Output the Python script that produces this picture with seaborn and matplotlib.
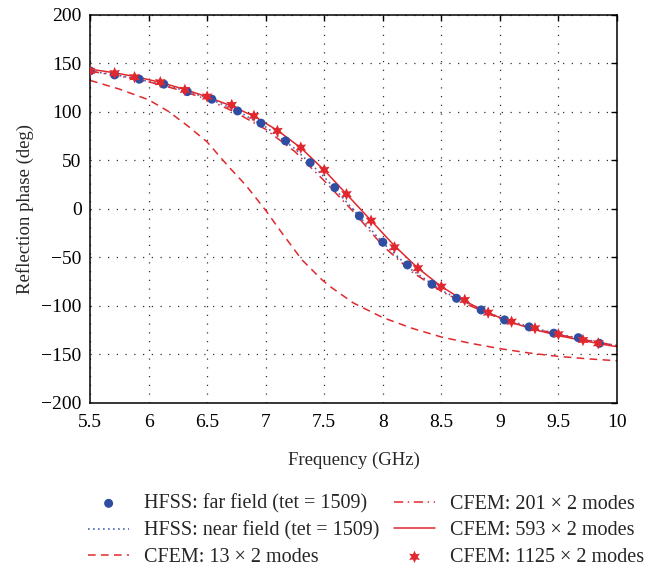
import numpy as np
import pandas as pd
import matplotlib
matplotlib.use('Agg')
import matplotlib.pyplot as plt
import seaborn as sns

# 데이터
far_f = [5.50, 5.71, 5.92, 6.13, 6.33, 6.54, 6.76, 6.96, 7.17, 7.38, 7.59,
         7.80, 8.00, 8.21, 8.42, 8.63, 8.84, 9.04, 9.25, 9.46, 9.67, 9.85]
far_phase = [142.3, 138.1, 133.7, 128.6, 120.9, 113.1, 101.0, 88.4, 70.1, 47.7, 22.0,
             -7.2, -34.3, -57.7, -77.6, -92.1, -104.1, -114.4, -121.6, -128.1, -132.7, -138.5]

near_f = [5.5, 5.75, 6.0, 6.25, 6.5, 6.75, 7.0, 7.25, 7.5, 7.75, 8.0, 8.25, 8.5,
          8.75, 9.0, 9.25, 9.5, 9.75, 10.0]
near_phase = [142, 137.5, 131.5, 124, 114.5, 101.5, 84.5, 62, 33, -1, -35, -63, -84,
              -99, -112, -121.5, -129, -135, -141]

c13_f = [5.5, 5.75, 6.0, 6.17, 6.34, 6.5, 6.68, 6.83, 7.0, 7.14, 7.31, 7.48, 7.55,
         7.75, 8.0, 8.25, 8.5, 8.75, 9.0, 9.25, 9.5, 9.75, 10.0]
c13_phase = [132.5, 123.5, 112.5, 100.5, 85, 69, 44, 24.5, -1.5, -25, -52.5, -73, -80,
             -97, -112, -123, -132, -138.5, -144, -148.5, -152, -154.5, -156.5]

c201_f = [5.5, 5.75, 6.0, 6.25, 6.5, 6.75, 7.0, 7.25, 7.5, 7.75, 8.0, 8.25, 8.5,
          8.75, 9.0, 9.25, 9.5, 9.75, 10.0]
c201_phase = [142, 137, 131, 123, 113, 99, 82, 59, 29, -3, -38, -65, -85,
              -100, -113, -122, -129.5, -135.5, -141]

c593_f = [5.5, 5.7, 5.9, 6.1, 6.3, 6.5, 6.7, 6.9, 7.1, 7.3, 7.5, 7.7, 7.9, 8.1,
          8.3, 8.5, 8.7, 8.9, 9.1, 9.3, 9.5, 9.7, 9.9, 10.0]
c593_phase = [144, 140.5, 136, 130.5, 123.5, 115.5, 106.5, 95.5, 81, 63, 40, 14, -12, -38,
              -61, -80, -95, -107, -117, -124.5, -130.5, -135.5, -140, -142]

c1125_f = [5.50, 5.71, 5.88, 6.10, 6.31, 6.50, 6.71, 6.90, 7.10, 7.30, 7.50, 7.69,
           7.90, 8.10, 8.30, 8.50, 8.70, 8.90, 9.10, 9.30, 9.50, 9.71, 9.84]
c1125_phase = [142.3, 139.9, 135.8, 130.6, 122.7, 115.8, 107.2, 95.9, 80.4, 63.2, 40.2, 15.2,
               -12.1, -39.5, -61.1, -80.1, -93.8, -106.9, -116.2, -123.0, -129.2, -135.1, -138.5]

x_ticks = [5.5, 6, 6.5, 7, 7.5, 8, 8.5, 9, 9.5, 10]
x_ticklabels = ['5.5', '6', '6.5', '7', '7.5', '8', '8.5', '9', '9.5', '10']
y_ticks = [-200, -150, -100, -50, 0, 50, 100, 150, 200]
y_ticklabels = ['\u2212200', '\u2212150', '\u2212100', '\u221250', '0', '50', '100', '150', '200']

red = '#e0282e'
blue = '#2f4ea3'

sns.set_style('white')
plt.rcParams['font.family'] = ['Liberation Serif', 'DejaVu Serif']

fig = plt.figure(figsize=(6.67, 5.72), dpi=100)
ax = fig.add_axes([0.135, 0.2955, 0.79, 0.6785])

# 선 그래프
sns.lineplot(x=c13_f, y=c13_phase, ax=ax, color=red, lw=1.1,
             linestyle=(0, (5, 3.5)), label='CFEM: 13 × 2 modes')
sns.lineplot(x=near_f, y=near_phase, ax=ax, color='#4a66b8', lw=1.2,
             linestyle=(0, (1, 2)), label='HFSS: near field (tet = 1509)')
sns.lineplot(x=c201_f, y=c201_phase, ax=ax, color=red, lw=1.1,
             linestyle=(0, (6, 3, 1, 3)), label='CFEM: 201 × 2 modes')
sns.lineplot(x=c593_f, y=c593_phase, ax=ax, color=red, lw=1.1,
             label='CFEM: 593 × 2 modes')

# 점 그래프
sns.scatterplot(x=far_f, y=far_phase, ax=ax, color=blue, s=42, edgecolor='none',
                marker='o', label='HFSS: far field (tet = 1509)', zorder=3)
sns.scatterplot(x=c1125_f, y=c1125_phase, ax=ax, color=red, s=80, edgecolor='none',
                marker=(6, 1, 0), label='CFEM: 1125 × 2 modes', zorder=4)

ax.set_xlim(5.5, 10)
ax.set_ylim(-200, 200)
ax.set_xticks(x_ticks)
ax.set_xticklabels(x_ticklabels)
ax.set_yticks(y_ticks)
ax.set_yticklabels(y_ticklabels)
ax.tick_params(direction='in', length=4, width=1, top=True, right=True,
               labelsize=14, colors='black', pad=6)
ax.tick_params(axis='x', pad=8)
ax.grid(True, color='#333333', linestyle=(0, (1, 6)), linewidth=0.9)
for sp in ax.spines.values():
    sp.set_color('black')
    sp.set_linewidth(1.1)

ax.set_xlabel('Frequency (GHz)', fontsize=13.5, labelpad=15)
ax.set_ylabel('Reflection phase (deg)', fontsize=13.5, labelpad=5)

# 범례 순서
handles, labels = ax.get_legend_handles_labels()
order = ['HFSS: far field (tet = 1509)', 'HFSS: near field (tet = 1509)',
         'CFEM: 13 × 2 modes', 'CFEM: 201 × 2 modes', 'CFEM: 593 × 2 modes',
         'CFEM: 1125 × 2 modes']
hmap = dict(zip(labels, handles))
ax.legend([hmap[k] for k in order], order, ncol=2, frameon=False,
          loc='center', bbox_to_anchor=(0.549, 0.072), bbox_transform=fig.transFigure,
          fontsize=14.5, handlelength=2.0, columnspacing=0.75, labelspacing=0.38,
          handletextpad=0.75, borderpad=0.2)

plt.savefig('out.png', dpi=100)
